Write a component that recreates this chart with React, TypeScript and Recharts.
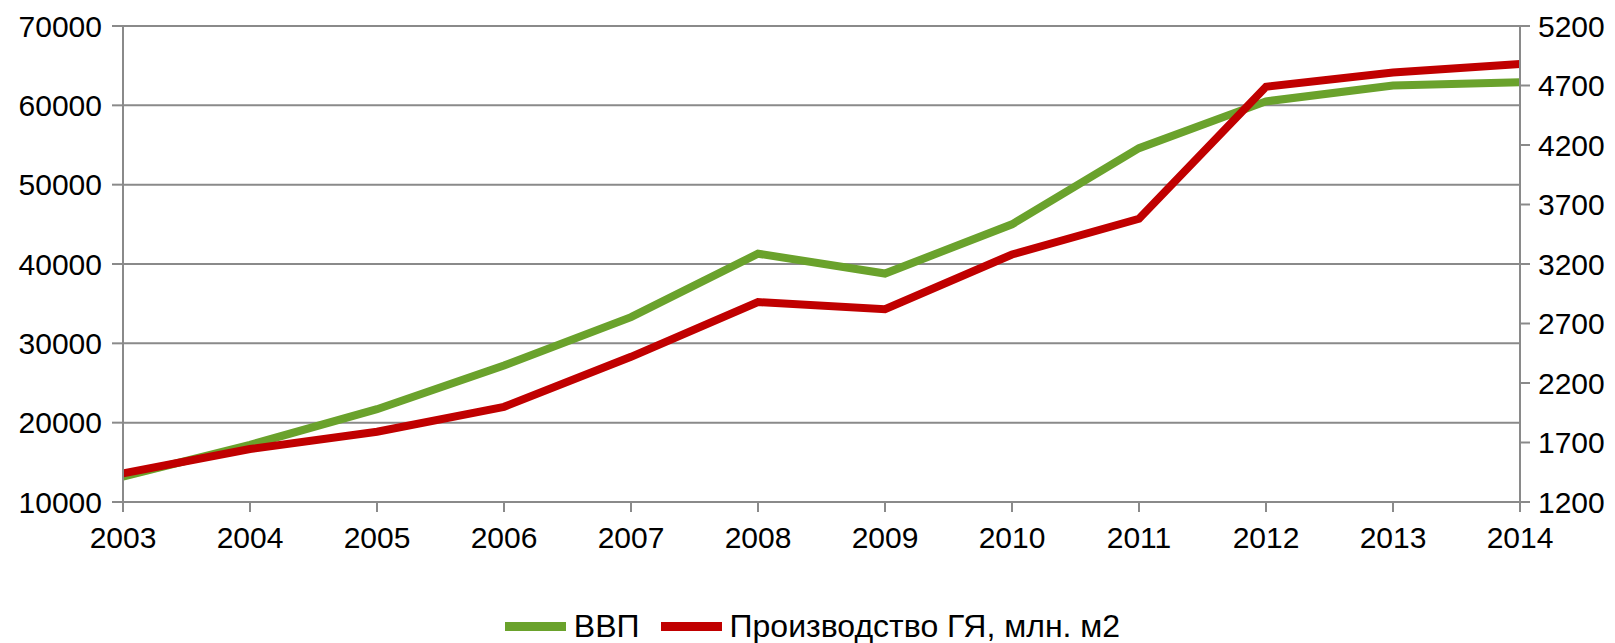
import { CartesianGrid, Legend, Line, LineChart, XAxis, YAxis } from "recharts";

const years = ["2003", "2004", "2005", "2006", "2007", "2008", "2009", "2010", "2011", "2012", "2013", "2014"];
const gdp = [13200, 17200, 21700, 27200, 33300, 41300, 38800, 45000, 54600, 60500, 62500, 62900];
const glassOutput = [1440, 1645, 1790, 2000, 2420, 2880, 2820, 3280, 3580, 4690, 4810, 4880];

const leftTicks = [10000, 20000, 30000, 40000, 50000, 60000, 70000];
const rightTicks = [1200, 1700, 2200, 2700, 3200, 3700, 4200, 4700, 5200];

const series = [
    { key: "gdp", name: "ВВП", color: "#6AA22C", axis: "left" },
    { key: "glass", name: "Производство ГЯ, млн. м2", color: "#C00000", axis: "right" },
];

const data = years.map((year, i) => ({ year, gdp: gdp[i], glass: glassOutput[i] }));

const FONT = '"Liberation Sans", Arial, sans-serif';
const AXIS = "#8A8A8A";
const tickStyle = { fontSize: 30, fill: "#000", fontFamily: FONT };

function ChartLegend() {
    return (
        <div
            style={{
                display: "flex",
                justifyContent: "center",
                alignItems: "center",
                height: 34,
                fontFamily: FONT,
                fontSize: 32,
                color: "#000",
                paddingLeft: 10,
            }}
        >
            {series.map((s, i) => (
                <div key={s.key} style={{ display: "flex", alignItems: "center", marginLeft: i ? 21 : 0 }}>
                    <span style={{ width: 61, height: 9, background: s.color, marginRight: 8 }} />
                    <span>{s.name}</span>
                </div>
            ))}
        </div>
    );
}

export default function App() {
    return (
        <div style={{ position: "absolute", left: 0, top: 0, width: 1615, height: 643, background: "#fff" }}>
            <LineChart width={1615} height={643} data={data} margin={{ top: 26, right: 0, bottom: 0, left: 0 }}>
                <CartesianGrid yAxisId="left" vertical={false} stroke={AXIS} strokeWidth={2} />
                <XAxis
                    dataKey="year"
                    height={107}
                    tick={tickStyle}
                    tickSize={10}
                    tickMargin={15}
                    stroke={AXIS}
                    strokeWidth={2}
                    interval={0}
                />
                <YAxis
                    yAxisId="left"
                    width={123}
                    domain={[10000, 70000]}
                    ticks={leftTicks}
                    tick={tickStyle}
                    tickSize={11}
                    tickMargin={10}
                    stroke={AXIS}
                    strokeWidth={2}
                    interval={0}
                />
                <YAxis
                    yAxisId="right"
                    orientation="right"
                    width={95}
                    domain={[1200, 5200]}
                    ticks={rightTicks}
                    tick={tickStyle}
                    tickSize={10}
                    tickMargin={8}
                    stroke={AXIS}
                    strokeWidth={2}
                    interval={0}
                />
                <Legend verticalAlign="bottom" content={<ChartLegend />} wrapperStyle={{ bottom: 0 }} />
                {series.map((s) => (
                    <Line
                        key={s.key}
                        yAxisId={s.axis}
                        type="linear"
                        dataKey={s.key}
                        name={s.name}
                        stroke={s.color}
                        strokeWidth={8}
                        dot={false}
                        activeDot={false}
                        isAnimationActive={false}
                    />
                ))}
            </LineChart>
        </div>
    );
}
